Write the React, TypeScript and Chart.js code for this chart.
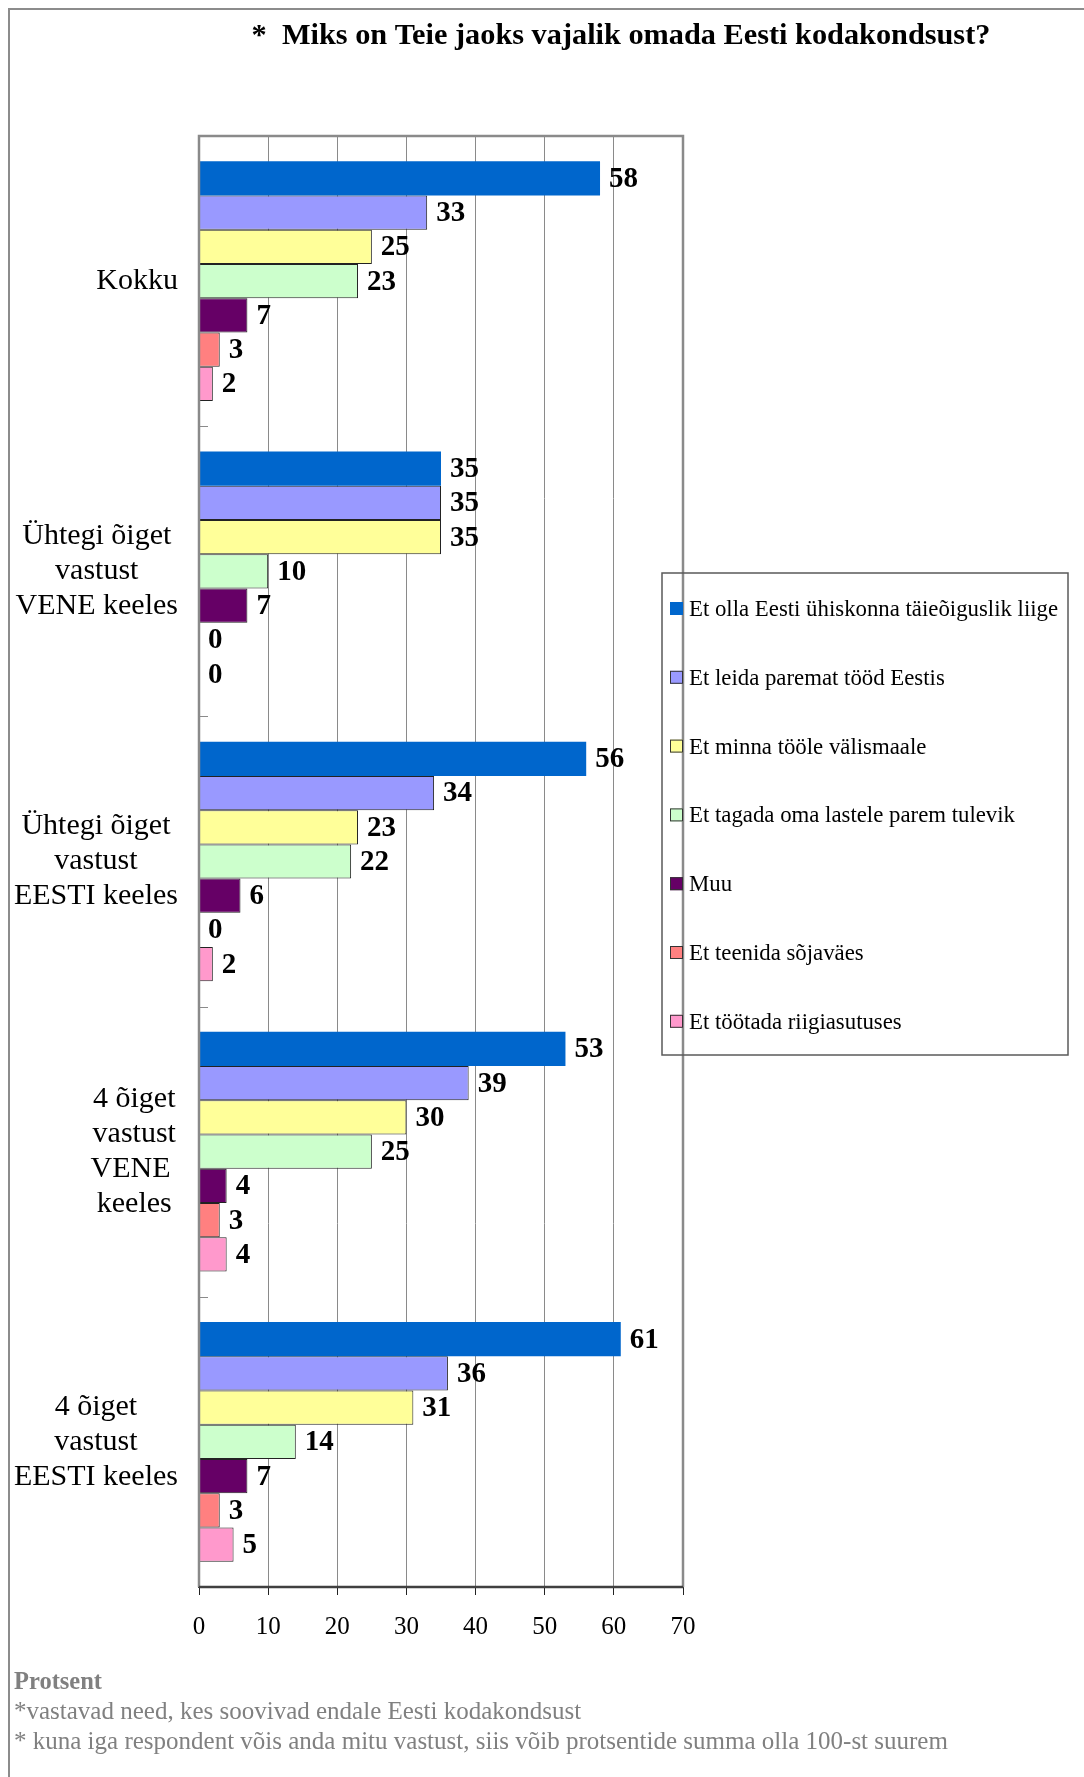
import React, { useEffect, useRef } from "react";
import { Chart, registerables } from "chart.js";

Chart.register(...registerables);

const titleText = "*  Miks on Teie jaoks vajalik omada Eesti kodakondsust?";

const categories: string[][] = [
  ["Kokku"],
  ["Ühtegi õiget", "vastust", "VENE keeles"],
  ["Ühtegi õiget", "vastust", "EESTI keeles"],
  ["4 õiget", "vastust", "VENE ", "keeles"],
  ["4 õiget", "vastust", "EESTI keeles"],
];

const seriesNames = [
  "Et olla Eesti ühiskonna täieõiguslik liige",
  "Et leida paremat tööd Eestis",
  "Et minna tööle välismaale",
  "Et tagada oma lastele parem tulevik",
  "Muu",
  "Et teenida sõjaväes",
  "Et töötada riigiasutuses",
];

const seriesColors = ["#0066CC", "#9999FF", "#FFFF99", "#CCFFCC", "#660066", "#FF8080", "#FF99CC"];
const seriesBorders = ["#0066CC", "#222222", "#222222", "#222222", "#222222", "#222222", "#222222"];

const taisoiguslik = [58, 35, 56, 53, 61];
const paremTood = [33, 35, 34, 39, 36];
const valismaale = [25, 35, 23, 30, 31];
const lastele = [23, 10, 22, 25, 14];
const muu = [7, 7, 6, 4, 7];
const sojavaes = [3, 0, 0, 3, 3];
const riigiasutuses = [2, 0, 2, 4, 5];

const seriesValues = [taisoiguslik, paremTood, valismaale, lastele, muu, sojavaes, riigiasutuses];

const xTicks = [0, 10, 20, 30, 40, 50, 60, 70];

const footnotes = [
  "Protsent",
  "*vastavad need, kes soovivad endale Eesti kodakondsust",
  "* kuna iga respondent võis anda mitu vastust, siis võib protsentide summa olla 100-st suurem",
];

const SERIF = '"Liberation Serif", "Times New Roman", serif';

export default function App() {
  const ref = useRef<HTMLCanvasElement | null>(null);

  useEffect(() => {
    const canvas = ref.current;
    if (!canvas) return;

    const decorPlugin = {
      id: "decor",
      beforeDraw(chart: any) {
        const ctx = chart.ctx;
        ctx.save();
        ctx.fillStyle = "#ffffff";
        ctx.fillRect(0, 0, chart.width, chart.height);
        // outer frame
        ctx.strokeStyle = "#8c8c8c";
        ctx.lineWidth = 2;
        ctx.beginPath();
        ctx.moveTo(9, chart.height);
        ctx.lineTo(9, 9);
        ctx.lineTo(chart.width, 9);
        ctx.stroke();
        // title
        ctx.fillStyle = "#000";
        ctx.font = `bold 30.3px ${SERIF}`;
        ctx.textAlign = "center";
        ctx.textBaseline = "middle";
        ctx.fillText(titleText, 621, 36);
        ctx.restore();
      },
      afterDatasetsDraw(chart: any) {
        const ctx = chart.ctx;
        const area = chart.chartArea;
        const yScale = chart.scales.y;
        ctx.save();
        // values
        ctx.font = `bold 29px ${SERIF}`;
        ctx.fillStyle = "#000";
        ctx.textAlign = "left";
        ctx.textBaseline = "middle";
        chart.data.datasets.forEach((ds: any, di: number) => {
          const meta = chart.getDatasetMeta(di);
          meta.data.forEach((el: any, i: number) => {
            ctx.fillText(String(ds.data[i]), el.x + 9, el.y + 1);
          });
        });
        // plot frame
        ctx.strokeStyle = "#8a8a8a";
        ctx.lineWidth = 2.5;
        ctx.beginPath();
        ctx.moveTo(area.left, area.bottom);
        ctx.lineTo(area.left, area.top);
        ctx.lineTo(area.right, area.top);
        ctx.lineTo(area.right, area.bottom);
        ctx.stroke();
        // inner category ticks
        ctx.lineWidth = 1;
        ctx.strokeStyle = "#8a8a8a";
        const n = categories.length;
        const band = (area.bottom - area.top) / n;
        for (let i = 0; i < n - 1; i++) {
          const y = Math.round(yScale.getPixelForValue(i) + band / 2) + 0.5;
          ctx.beginPath();
          ctx.moveTo(area.left, y);
          ctx.lineTo(area.left + 9, y);
          ctx.stroke();
        }
        // axis line bottom
        ctx.strokeStyle = "#404040";
        ctx.lineWidth = 2.5;
        ctx.beginPath();
        ctx.moveTo(area.left, area.bottom);
        ctx.lineTo(area.right, area.bottom);
        ctx.stroke();
        // category labels
        ctx.font = `30px ${SERIF}`;
        ctx.fillStyle = "#000";
        ctx.textAlign = "center";
        const lh = 35;
        const rightEdge = 178;
        categories.forEach((lines, i) => {
          const cy = yScale.getPixelForValue(i);
          const w = Math.max(...lines.map((l) => ctx.measureText(l).width));
          const cx = rightEdge - w / 2;
          const y0 = cy - ((lines.length - 1) * lh) / 2;
          lines.forEach((l, k) => ctx.fillText(l, cx, y0 + k * lh));
        });
        ctx.restore();
      },
      afterDraw(chart: any) {
        const ctx = chart.ctx;
        ctx.save();
        // legend box
        const lx = 662, ly = 573, lw = 406, lhgt = 482;
        ctx.strokeStyle = "#5a5a5a";
        ctx.lineWidth = 1.5;
        ctx.strokeRect(lx, ly, lw, lhgt);
        ctx.font = `22.8px ${SERIF}`;
        ctx.textAlign = "left";
        ctx.textBaseline = "middle";
        seriesNames.forEach((name, i) => {
          const y = 609 + i * 68.8;
          ctx.fillStyle = seriesColors[i];
          ctx.fillRect(670, y - 7, 13, 13);
          if (i > 0) {
            ctx.strokeStyle = "#333";
            ctx.lineWidth = 1;
            ctx.strokeRect(670.5, y - 6.5, 12, 12);
          }
          ctx.fillStyle = "#000";
          ctx.fillText(name, 689, y + 1);
        });
        // footnotes
        ctx.fillStyle = "#808080";
        ctx.font = `bold 24.5px ${SERIF}`;
        ctx.fillText(footnotes[0], 14, 1683);
        ctx.font = `25px ${SERIF}`;
        ctx.fillText(footnotes[1], 14, 1712);
        ctx.fillText(footnotes[2], 14, 1742);
        ctx.restore();
      },
    };

    const chart = new Chart(canvas, {
      type: "bar",
      data: {
        labels: categories.map((c) => c.join(" ")),
        datasets: seriesValues.map((vals, i) => ({
          label: seriesNames[i],
          data: vals,
          backgroundColor: seriesColors[i],
          borderColor: seriesBorders[i],
          borderWidth: i === 0 ? 0 : 1,
          categoryPercentage: 0.826,
          barPercentage: 1,
        })),
      },
      options: {
        indexAxis: "y",
        responsive: false,
        animation: false,
        devicePixelRatio: 1,
        layout: { padding: { left: 199, right: 401, top: 136, bottom: 0 } },
        plugins: {
          legend: { display: false },
          tooltip: { enabled: false },
          title: { display: false },
        },
        scales: {
          y: {
            type: "category",
            display: false,
          },
          x: {
            type: "linear",
            position: "bottom",
            min: 0,
            max: 70,
            afterBuildTicks: (scale: any) => {
              scale.ticks = xTicks.map((v) => ({ value: v }));
            },
            afterFit: (scale: any) => {
              scale.height = 190;
            },
            grid: {
              color: "#8a8a8a",
              lineWidth: 1,
              tickLength: 8,
              tickColor: "#222",
              drawTicks: true,
            },
            border: { display: true, color: "#404040", width: 2 },
            ticks: {
              color: "#000",
              font: { family: SERIF, size: 25 },
              padding: 17,
              maxRotation: 0,
              autoSkip: false,
            },
          },
        },
      },
      plugins: [decorPlugin],
    });

    return () => chart.destroy();
  }, []);

  return (
    <div style={{ position: "absolute", left: 0, top: 0, width: 1084, height: 1777 }}>
      <canvas ref={ref} width={1084} height={1777} style={{ display: "block" }} />
    </div>
  );
}
